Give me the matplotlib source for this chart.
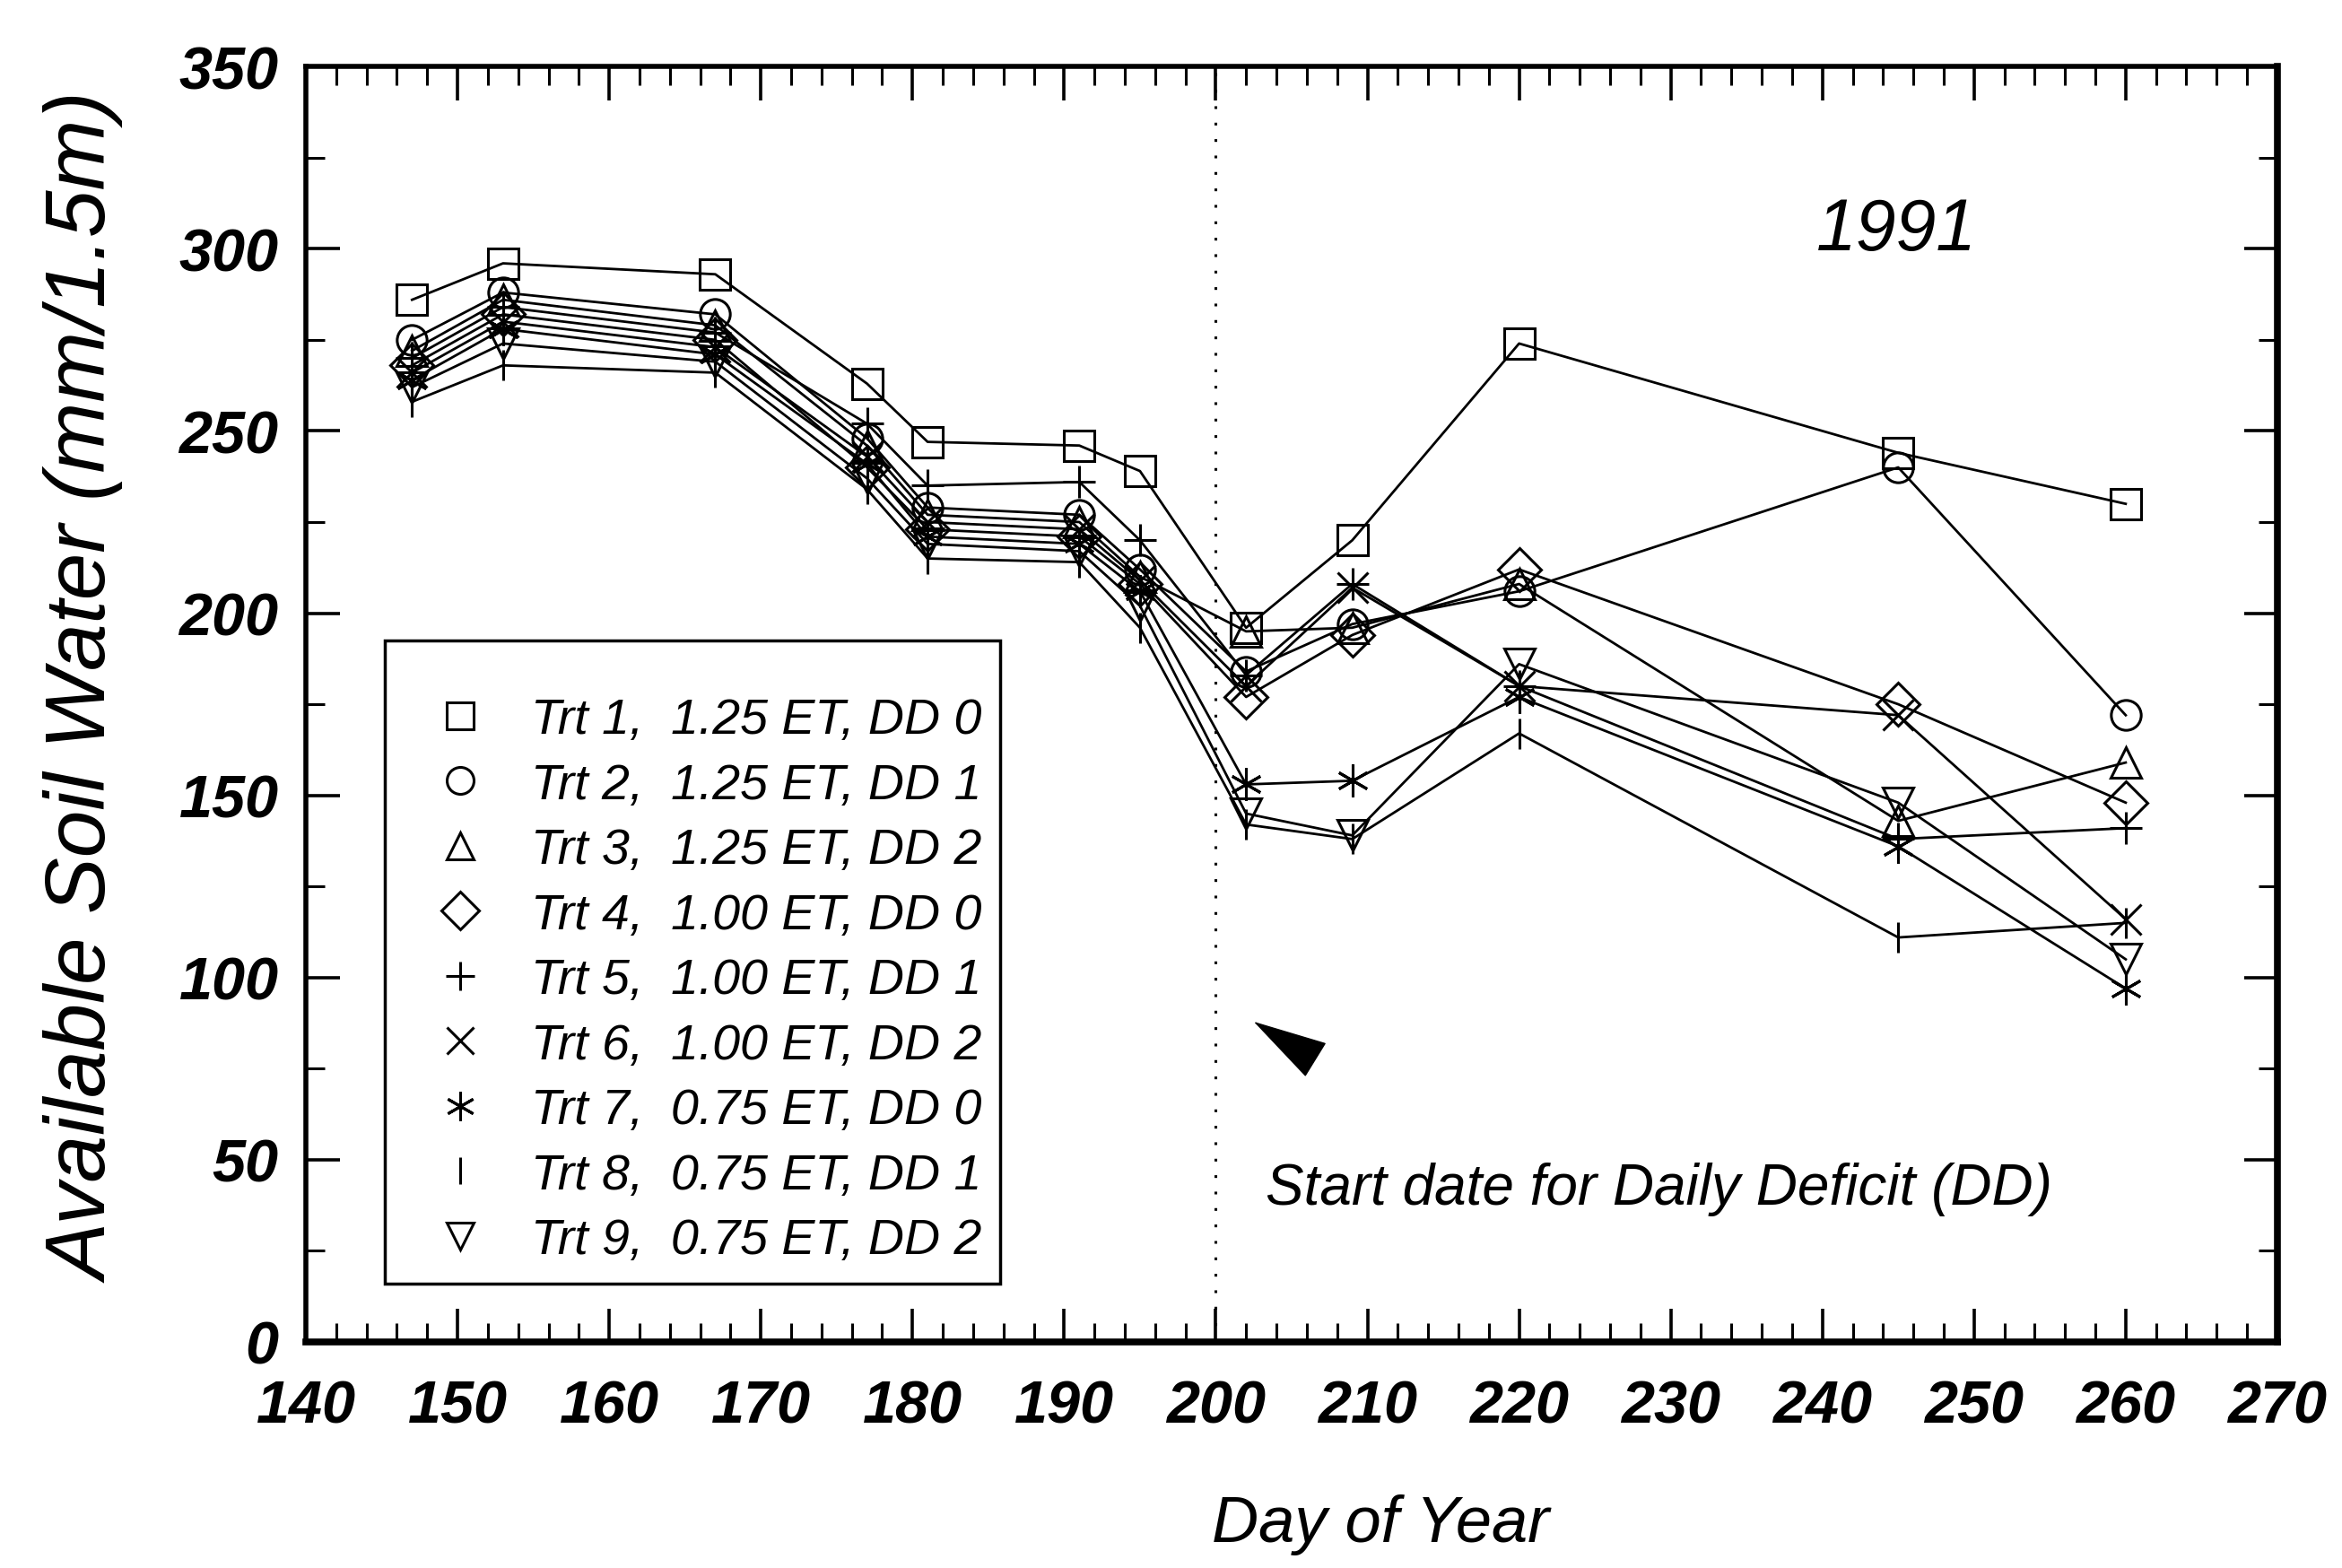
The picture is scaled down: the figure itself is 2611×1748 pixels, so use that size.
import matplotlib
matplotlib.use("Agg")
import matplotlib.pyplot as plt
from matplotlib.ticker import MultipleLocator

plt.rcParams["font.family"] = ["Liberation Sans", "DejaVu Sans"]
plt.rcParams["font.style"] = "italic"

# day of year of each soil water reading
days = [147, 153, 167, 177, 181, 191, 195, 202, 209, 220, 245, 260]

# available soil water (mm/1.5m) per treatment
trt1 = [286, 296, 293, 263, 247, 246, 239, 196, 220, 274, 244, 230]
trt2 = [275, 288, 282, 248, 229, 227, 212, 184, 197, 206, 240, 172]
trt3 = [272, 286, 279, 246, 227, 225, 210, 195, 196, 208, 143, 159]
trt4 = [268, 282, 275, 240, 223, 221, 208, 177, 194, 212, 175, 148]
trt5 = [270, 284, 277, 252, 235, 236, 220, 183, 208, 180, 138, 141]
trt6 = [266, 280, 273, 243, 225, 223, 209, 180, 207, 180, 172, 116]
trt7 = [264, 278, 271, 241, 221, 219, 206, 153, 154, 177, 136, 97]
trt8 = [258, 268, 266, 234, 215, 214, 196, 142, 138, 167, 111, 115]
trt9 = [262, 274, 269, 237, 219, 217, 202, 145, 139, 186, 148, 105]

labels = [
    "Trt 1,  1.25 ET, DD 0",
    "Trt 2,  1.25 ET, DD 1",
    "Trt 3,  1.25 ET, DD 2",
    "Trt 4,  1.00 ET, DD 0",
    "Trt 5,  1.00 ET, DD 1",
    "Trt 6,  1.00 ET, DD 2",
    "Trt 7,  0.75 ET, DD 0",
    "Trt 8,  0.75 ET, DD 1",
    "Trt 9,  0.75 ET, DD 2",
]

dd_start = 200

series = [trt1, trt2, trt3, trt4, trt5, trt6, trt7, trt8, trt9]
markers = ["s", "o", "^", "D", "+", "x", (6, 2, 0), "|", "v"]
sizes = [24, 24, 24, 24, 26, 24, 26, 24, 24]

fig = plt.figure(figsize=(26.11, 17.49), dpi=100)
ax = fig.add_axes([0.1306, 0.1441, 0.8418, 0.8129])

for vals, m, s, lab in zip(series, markers, sizes, labels):
    ax.plot(days, vals, color="black", lw=2, zorder=2)
    ax.plot(days, vals, ls="none", marker=m, ms=s, mfc="none", mec="black",
            mew=2.2, label=lab, zorder=3)

ax.axvline(dd_start, color="black", lw=2.2, ls=(0, (1, 5)), zorder=1)

ax.set_xlim(140, 270)
ax.set_ylim(0, 350)
ax.xaxis.set_major_locator(MultipleLocator(10))
ax.xaxis.set_minor_locator(MultipleLocator(2))
ax.yaxis.set_major_locator(MultipleLocator(50))
ax.yaxis.set_minor_locator(MultipleLocator(25))
ax.tick_params(which="both", direction="in", top=True, right=True)
ax.tick_params(which="major", length=27, width=2.6, labelsize=48)
ax.tick_params(axis="x", which="major", pad=30)
ax.tick_params(axis="y", which="major", pad=22)
ax.tick_params(which="minor", length=15, width=2.2)
plt.setp(ax.get_xticklabels() + ax.get_yticklabels(), fontweight="bold")

for side, w in [("bottom", 5.5), ("right", 5.5), ("left", 4), ("top", 4)]:
    ax.spines[side].set_linewidth(w)

ax.set_xlabel("Day of Year", fontsize=52, va="center")
ax.xaxis.set_label_coords(0.545, -0.143)
ax.set_ylabel("Available Soil Water (mm/1.5m)", fontsize=68, va="center")
ax.yaxis.set_label_coords(-0.111, 0.513)

ax.text(244.9, 305, "1991", fontsize=58, ha="center", va="center")
ax.text(203.3, 42, "Start date for Daily Deficit (DD)", fontsize=46,
        ha="left", va="center")
ax.annotate("", xy=(202.5, 87.9), xytext=(206.4, 77.9),
            arrowprops=dict(arrowstyle="-|>,head_length=5.6,head_width=1.5",
                            mutation_scale=10, shrinkA=0, shrinkB=0,
                            fc="black", ec="black", lw=1))

leg = ax.legend(loc="lower left", bbox_to_anchor=(0.040, 0.046), fontsize=40,
                title=" ", title_fontsize=16,
                frameon=True, fancybox=False, framealpha=1, edgecolor="black",
                borderpad=0.38, handlelength=2.25, handletextpad=0.3,
                labelspacing=0.37, borderaxespad=0, markerscale=0.9)
leg.get_frame().set_linewidth(2.5)

fig.savefig("out.png", dpi=100)
